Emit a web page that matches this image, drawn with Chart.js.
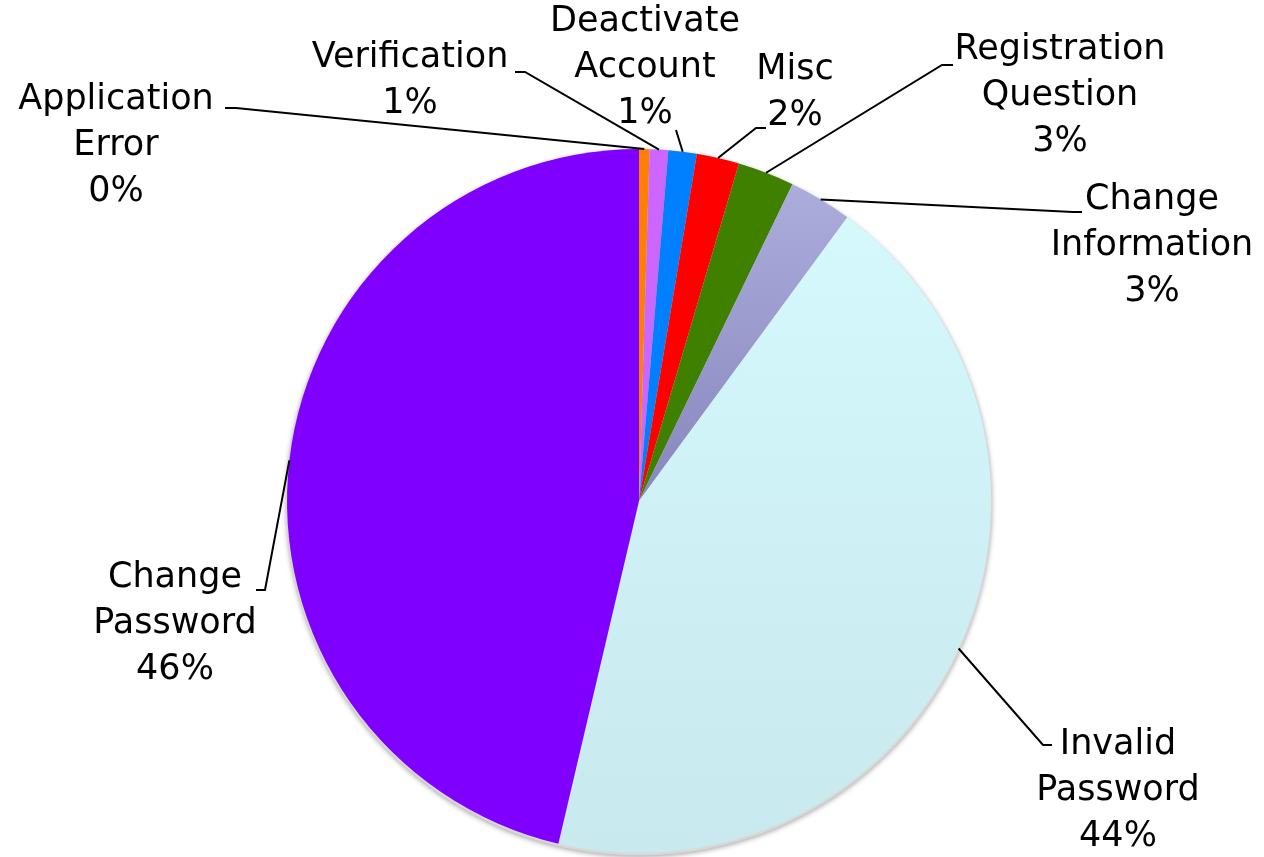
<!DOCTYPE html>
<html>
<head>
<meta charset="utf-8">
<script src="https://cdn.jsdelivr.net/npm/chart.js@4.4.0/dist/chart.umd.min.js"></script>
<style>
  html, body { margin: 0; padding: 0; background: #ffffff; }
  #wrap { width: 1264px; height: 857px; position: relative; }
</style>
</head>
<body>
<div id="wrap"><canvas id="c" width="1264" height="857"></canvas></div>
<script>
// ---- data ----
const categories = ['Application Error', 'Verification', 'Deactivate Account', 'Misc',
                    'Registration Question', 'Change Information', 'Invalid Password', 'Change Password'];
const values = [0.48, 0.85, 1.3, 1.95, 2.6, 2.9, 43.6, 46.32];
const sliceColors = ['#FF8000', '#CC66FF', '#0080FF', '#FF0000', '#408000', null, null, '#7F00FF'];

// ---- label layout (positions only, not data) ----
const labelLayout = [
  { cx: 116,  y0: 100, elbow: [236, 108], tick: [225, 108] },
  { cx: 410,  y0: 58,  elbow: [525, 72],  tick: [515, 72] },
  { cx: 645,  y0: 22,  elbow: [676, 130], tick: null },
  { cx: 795,  y0: 70,  elbow: [756, 128], tick: [766, 128] },
  { cx: 1060, y0: 50,  elbow: [942, 65],  tick: [953, 65] },
  { cx: 1152, y0: 200, elbow: [1073, 212], tick: [1082, 212] },
  { cx: 1118, y0: 745, elbow: [1043, 745], tick: [1052, 745] },
  { cx: 175,  y0: 578, elbow: [265, 590], tick: [256, 590] }
];
const LINE_H = 46;
const FONT = '35px "DejaVu Sans"';

function bg(ctx) {
  const i = ctx.dataIndex;
  const chart = ctx.chart;
  const area = chart.chartArea;
  if (!area) return '#cccccc';
  const c = chart.ctx;
  if (i === 5) {
    const g = c.createLinearGradient(0, area.top, 0, area.top + 360);
    g.addColorStop(0, '#B0B0E0');
    g.addColorStop(1, '#8686BC');
    return g;
  }
  if (i === 6) {
    const g = c.createLinearGradient(0, area.top, 0, area.bottom);
    g.addColorStop(0, '#D6FAFD');
    g.addColorStop(1, '#C8E9EE');
    return g;
  }
  return sliceColors[i];
}

const total = values.reduce((a, b) => a + b, 0);

const shadowPlugin = {
  id: 'pieShadow',
  beforeDatasetsDraw(chart) {
    const meta = chart.getDatasetMeta(0);
    const a = meta.data[0];
    const c = chart.ctx;
    c.save();
    c.beginPath();
    c.arc(a.x, a.y + 1.5, a.outerRadius + 1, 0, Math.PI * 2);
    c.shadowColor = 'rgba(0,0,0,0.35)';
    c.shadowBlur = 5;
    c.shadowOffsetY = 1.5;
    c.fillStyle = '#d8d8d8';
    c.fill();
    c.restore();
  }
};

const labelPlugin = {
  id: 'leaderLabels',
  afterDatasetsDraw(chart) {
    const c = chart.ctx;
    const meta = chart.getDatasetMeta(0);
    c.save();
    meta.data.forEach((arc, i) => {
      const L = labelLayout[i];
      const mid = (arc.startAngle + arc.endAngle) / 2;
      const px = arc.x + Math.cos(mid) * arc.outerRadius;
      const py = arc.y + Math.sin(mid) * arc.outerRadius;
      c.strokeStyle = '#000000';
      c.lineWidth = 2;
      c.beginPath();
      c.moveTo(px, py);
      c.lineTo(L.elbow[0], L.elbow[1]);
      if (L.tick) c.lineTo(L.tick[0], L.tick[1]);
      c.stroke();

      const pct = Math.round(values[i] / total * 100) + '%';
      const lines = categories[i].split(' ').concat([pct]);
      c.fillStyle = '#000000';
      c.font = FONT;
      c.textAlign = 'center';
      c.textBaseline = 'middle';
      lines.forEach((t, k) => c.fillText(t, L.cx, L.y0 + k * LINE_H));
    });
    c.restore();
  }
};

new Chart(document.getElementById('c'), {
  type: 'pie',
  data: {
    labels: categories,
    datasets: [{
      data: values,
      backgroundColor: bg,
      borderWidth: 0
    }]
  },
  options: {
    responsive: false,
    animation: false,
    layout: { padding: { top: 149, bottom: 4, left: 287, right: 273 } },
    plugins: {
      legend: { display: false },
      tooltip: { enabled: false },
      title: { display: false }
    }
  },
  plugins: [shadowPlugin, labelPlugin]
});
</script>
</body>
</html>
